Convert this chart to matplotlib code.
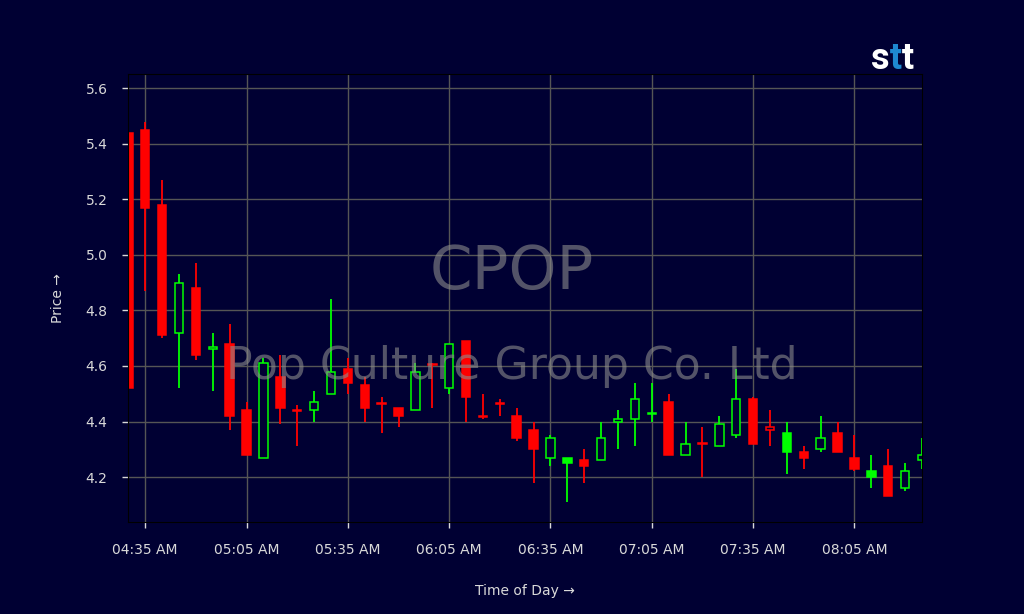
import matplotlib
matplotlib.use("Agg")
import matplotlib.pyplot as plt
import matplotlib.dates as mdates
from matplotlib.patches import Rectangle
import pandas as pd

# ---- data ----
times = ["04:30", "04:35", "04:40", "04:45", "04:50", "04:55", "05:00", "05:05",
         "05:10", "05:15", "05:20", "05:25", "05:30", "05:35", "05:40", "05:45",
         "05:50", "05:55", "06:00", "06:05", "06:10", "06:15", "06:20", "06:25",
         "06:30", "06:35", "06:40", "06:45", "06:50", "06:55", "07:00", "07:05",
         "07:10", "07:15", "07:20", "07:25", "07:30", "07:35", "07:40", "07:45",
         "07:50", "07:55", "08:00", "08:05", "08:10", "08:15", "08:20", "08:25"]
opens = [5.44, 5.45, 5.18, 4.72, 4.88, 4.66, 4.68, 4.44, 4.27, 4.56, 4.440, 4.44,
         4.50, 4.59, 4.53, 4.468, 4.45, 4.44, 4.608, 4.52, 4.69, 4.420, 4.467, 4.42,
         4.37, 4.27, 4.25, 4.26, 4.26, 4.40, 4.41, 4.428, 4.47, 4.28, 4.321, 4.31,
         4.35, 4.48, 4.38, 4.29, 4.29, 4.30, 4.36, 4.27, 4.20, 4.24, 4.16, 4.26]
highs = [5.44, 5.48, 5.27, 4.93, 4.97, 4.72, 4.75, 4.47, 4.63, 4.64, 4.46, 4.51,
         4.84, 4.63, 4.56, 4.49, 4.45, 4.61, 4.61, 4.68, 4.69, 4.50, 4.48, 4.45,
         4.40, 4.35, 4.27, 4.30, 4.40, 4.44, 4.54, 4.54, 4.50, 4.40, 4.38, 4.42,
         4.59, 4.49, 4.44, 4.40, 4.31, 4.42, 4.40, 4.35, 4.28, 4.30, 4.25, 4.34]
lows = [4.52, 4.87, 4.70, 4.52, 4.62, 4.51, 4.37, 4.28, 4.27, 4.39, 4.31, 4.40,
        4.50, 4.50, 4.40, 4.36, 4.38, 4.44, 4.45, 4.50, 4.40, 4.41, 4.42, 4.33,
        4.18, 4.24, 4.11, 4.18, 4.26, 4.30, 4.31, 4.40, 4.28, 4.28, 4.20, 4.31,
        4.34, 4.32, 4.31, 4.21, 4.23, 4.29, 4.29, 4.22, 4.16, 4.13, 4.15, 4.23]
closes = [4.52, 5.17, 4.71, 4.90, 4.64, 4.67, 4.42, 4.28, 4.61, 4.45, 4.437, 4.47,
          4.58, 4.54, 4.45, 4.462, 4.42, 4.58, 4.604, 4.68, 4.49, 4.417, 4.464, 4.34,
          4.30, 4.34, 4.27, 4.24, 4.34, 4.41, 4.48, 4.432, 4.28, 4.32, 4.318, 4.39,
          4.48, 4.32, 4.37, 4.36, 4.27, 4.34, 4.29, 4.23, 4.22, 4.13, 4.22, 4.28]
tick_times = ["04:35", "05:05", "05:35", "06:05", "06:35", "07:05", "07:35", "08:05"]
tick_labels = ["04:35 AM", "05:05 AM", "05:35 AM", "06:05 AM", "06:35 AM",
               "07:05 AM", "07:35 AM", "08:05 AM"]
y_ticks = [4.2, 4.4, 4.6, 4.8, 5.0, 5.2, 5.4, 5.6]
ticker = "CPOP"
company = "Pop Culture Group Co. Ltd"

# ---- style ----
BG = "#000033"
UP = "#00ff00"
DOWN = "#ff0000"
TXT = "#d9d9d9"

day = "2024-01-02 "
xs = mdates.date2num(pd.to_datetime([day + t for t in times]))
xt = mdates.date2num(pd.to_datetime([day + t for t in tick_times]))
step = xs[1] - xs[0]
width = step * 0.5

fig = plt.figure(figsize=(10.24, 6.14), dpi=100, facecolor=BG)
ax = fig.add_axes([0.1253, 0.1503, 0.9004 - 0.1253, 0.8795 - 0.1503])
ax.set_facecolor(BG)

for i, x in enumerate(xs):
    o, h, l, c = opens[i], highs[i], lows[i], closes[i]
    col = UP if c > o else DOWN
    prev = closes[i - 1] if i > 0 else o
    # hollow body when the close rises above the previous close (first two
    # bars open the session and are drawn solid)
    filled = c < prev or (i < 2 and c < o)
    ax.vlines(x, l, h, color=col, linewidth=1.3, zorder=3)
    lo, hi = min(o, c), max(o, c)
    ax.add_patch(Rectangle((x - width / 2, lo), width, hi - lo,
                           facecolor=col if filled else BG, edgecolor=col,
                           linewidth=1.1, zorder=4))

ax.set_xlim(xs[0], xs[-1])
ax.set_ylim(4.039, 5.652)
ax.set_xticks(xt)
ax.set_xticklabels(tick_labels)
ax.set_yticks(y_ticks)
ax.set_yticklabels([f"{v:.1f}" for v in y_ticks])
ax.grid(True, color="#555555", linewidth=1.0, zorder=1)
ax.set_axisbelow(True)
for s in ax.spines.values():
    s.set_color("black")
    s.set_zorder(6)
ax.tick_params(axis="both", colors=TXT, labelsize=10, length=4, width=1)
ax.tick_params(axis="y", pad=11)
ax.tick_params(axis="x", pad=11)
ax.set_ylabel("Price →", color=TXT, fontsize=10, labelpad=15)
ax.set_xlabel("Time of Day →", color=TXT, fontsize=10, labelpad=19.5)

# watermark
fig.text(0.5, 0.557, ticker, ha="center", va="center", fontsize=44,
         color="#8c8c8c", alpha=0.6, zorder=10)
fig.text(0.5, 0.403, company, ha="center", va="center", fontsize=31.8,
         color="#8c8c8c", alpha=0.6, zorder=10)

# logo
ly = 1 - 69.3 / 614
fig.text(871 / 1024, ly, "s", ha="left", va="baseline", fontsize=26,
         fontweight="bold", family="Roboto", color="white")
fig.text(889.5 / 1024, ly, "t", ha="left", va="baseline", fontsize=26,
         fontweight="bold", family="Roboto", color="#1e88d0")
fig.text(901.5 / 1024, ly, "t", ha="left", va="baseline", fontsize=26,
         fontweight="bold", family="Roboto", color="white")

fig.savefig("out.png", dpi=100, facecolor=BG)
